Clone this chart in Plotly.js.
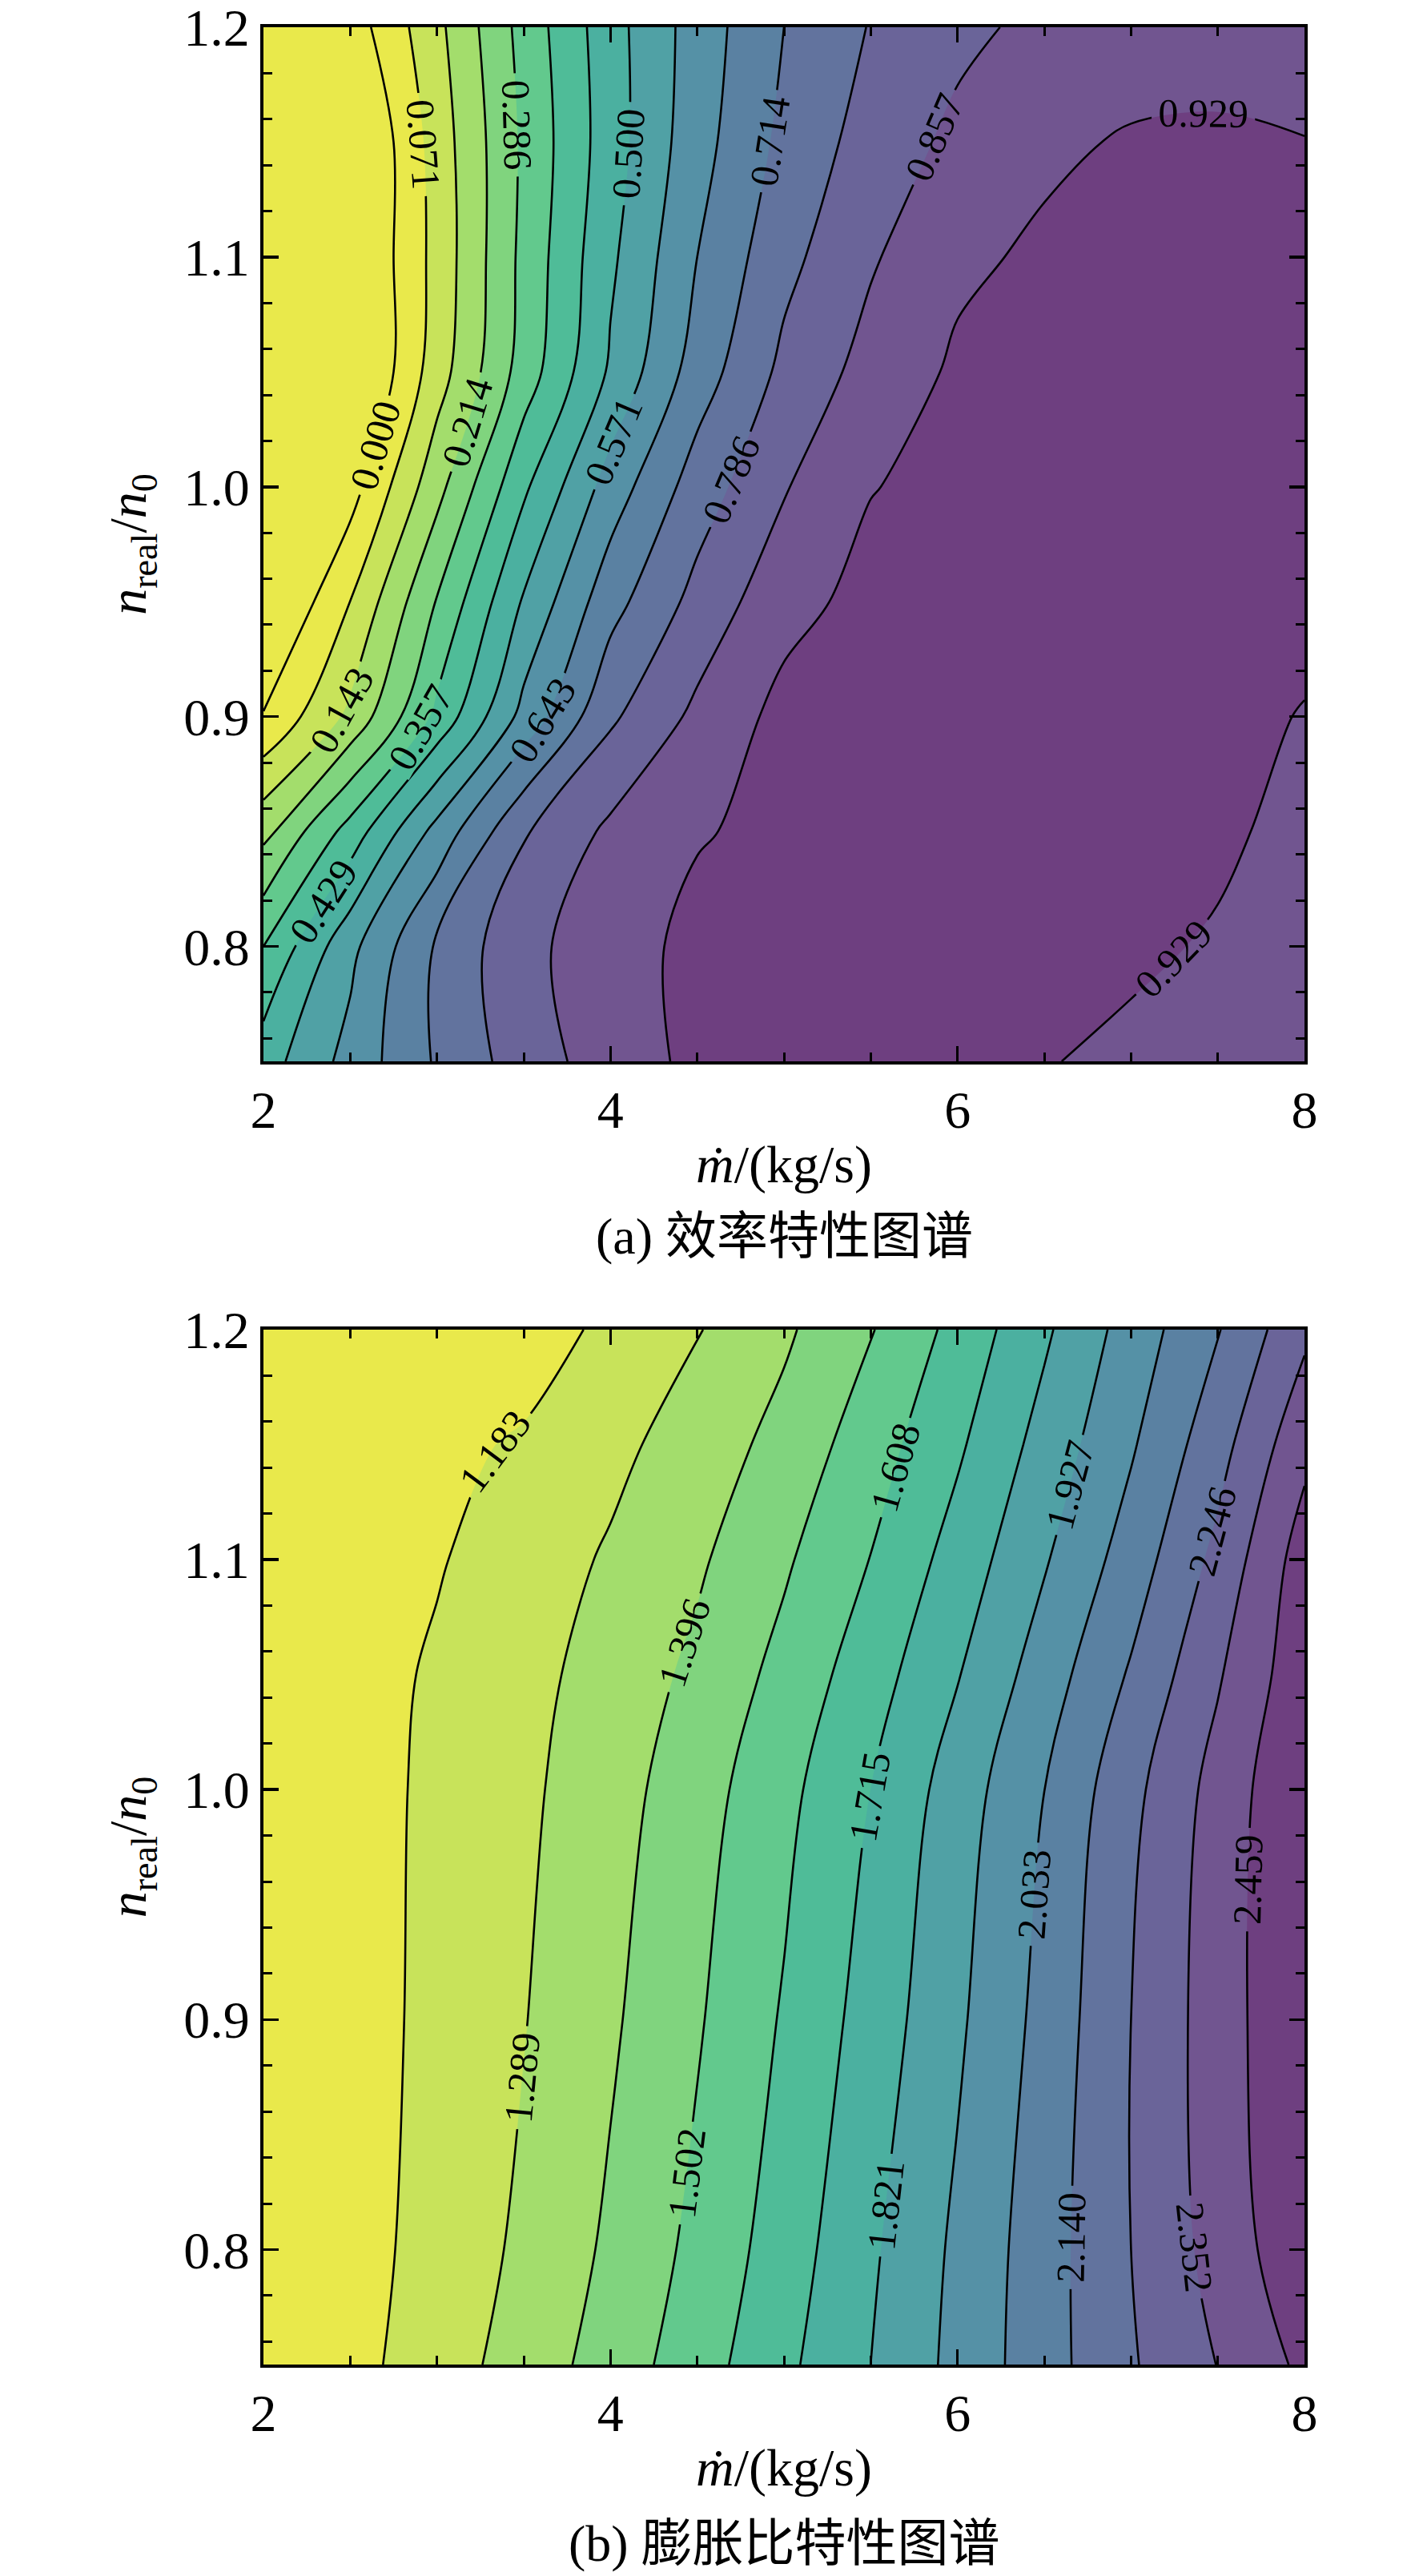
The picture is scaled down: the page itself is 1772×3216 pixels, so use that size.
<!DOCTYPE html>
<html>
<head>
<meta charset="utf-8">
<script src="https://cdn.plot.ly/plotly-3.0.1.min.js"></script>
<style>
html, body { margin: 0; padding: 0; background: #ffffff; }
#chart { width: 1772px; height: 3216px; }
</style>
</head>
<body>
<div id="chart"></div>
<script>
// ---------- data ----------
// mass flow (kg/s), shared x grid
const massFlow = [2, 2.5, 3, 3.5, 4, 4.5, 5, 5.5, 6, 6.5, 7, 7.5, 8];

// (a) efficiency map: relative speed rows
const effSpeed = [0.75, 0.80, 0.85, 0.90, 0.95, 1.00, 1.05, 1.10, 1.15, 1.20];
const efficiency = [
  [0.4668, 0.5971, 0.7230, 0.8214, 0.8922, 0.945, 0.950, 0.950, 0.945, 0.932, 0.915, 0.900, 0.885],
  [0.3571, 0.5516, 0.7253, 0.8383, 0.8968, 0.948, 0.952, 0.955, 0.955, 0.950, 0.940, 0.922, 0.895],
  [0.1955, 0.3865, 0.5966, 0.7792, 0.8724, 0.9234, 0.945, 0.955, 0.958, 0.955, 0.948, 0.940, 0.910],
  [0.0050, 0.1597, 0.3750, 0.5952, 0.7738, 0.8741, 0.950, 0.955, 0.962, 0.965, 0.962, 0.950, 0.925],
  [-0.100, 0.0720, 0.2902, 0.5079, 0.6884, 0.8095, 0.905, 0.950, 0.955, 0.965, 0.970, 0.965, 0.950],
  [-0.100, -0.031, 0.1905, 0.4159, 0.6039, 0.7488, 0.8515, 0.926, 0.948, 0.962, 0.968, 0.966, 0.958],
  [-0.100, -0.1092, 0.1092, 0.3174, 0.5107, 0.6771, 0.8036, 0.8831, 0.940, 0.955, 0.962, 0.962, 0.955],
  [-0.100, -0.0952, 0.0952, 0.3055, 0.4864, 0.6429, 0.7647, 0.8492, 0.915, 0.940, 0.950, 0.952, 0.945],
  [-0.100, -0.1031, 0.1031, 0.2993, 0.4676, 0.6154, 0.7331, 0.8159, 0.8739, 0.9159, 0.935, 0.937, 0.930],
  [-0.060, -0.039, 0.1240, 0.3117, 0.4721, 0.6047, 0.7143, 0.7897, 0.840, 0.875, 0.895, 0.905, 0.903]
];
const effLevelStart = 0;
const effLevelStep = 1 / 14;
const effLevelCount = 14;

// (b) expansion-ratio map
const prSpeed = [0.75, 0.80, 0.90, 1.00, 1.05, 1.10, 1.15, 1.20];
const expansionRatio = [
  [1.100, 1.149, 1.239, 1.335, 1.443, 1.561, 1.690, 1.821, 1.958, 2.096, 2.235, 2.355, 2.482],
  [1.100, 1.140, 1.223, 1.309, 1.414, 1.530, 1.660, 1.804, 1.948, 2.093, 2.246, 2.392, 2.537],
  [1.100, 1.137, 1.211, 1.285, 1.380, 1.491, 1.619, 1.758, 1.909, 2.067, 2.246, 2.408, 2.556],
  [1.100, 1.140, 1.205, 1.269, 1.352, 1.457, 1.578, 1.715, 1.872, 2.033, 2.216, 2.392, 2.559],
  [1.100, 1.139, 1.197, 1.258, 1.330, 1.420, 1.535, 1.667, 1.815, 1.979, 2.152, 2.341, 2.530],
  [1.090, 1.133, 1.175, 1.236, 1.302, 1.380, 1.487, 1.611, 1.758, 1.917, 2.082, 2.276, 2.510],
  [1.090, 1.123, 1.156, 1.196, 1.262, 1.337, 1.431, 1.558, 1.698, 1.860, 2.021, 2.205, 2.430],
  [1.060, 1.080, 1.100, 1.130, 1.207, 1.283, 1.378, 1.495, 1.642, 1.803, 1.973, 2.133, 2.330]
];
const prLevelStart = 1.18305;
const prLevelStep = 0.106305;
const prLevelCount = 13;

// tick labels
const xTickVals = [2, 4, 6, 8];
const yTickVals = [0.8, 0.9, 1.0, 1.1, 1.2];
const captionA = '(a) 效率特性图谱';
const captionB = '(b) 膨胀比特性图谱';
const xTitle = '<i>ṁ</i>/(kg/s)';
const yTitle = '<i>n</i><sub>real</sub>/<i>n</i><sub>0</sub>';

// ---------- styles ----------
const layerColors = ['#e9e94b', '#c8e35a', '#a3dd6c', '#80d47e', '#62c98d', '#4fbc98', '#4bb0a0',
                     '#50a1a5', '#5591a6', '#5a81a2', '#62739e', '#6a6499', '#715590', '#6e3f80'];

function scaleFrom(colors) {
  const n = colors.length - 1;
  return colors.map((c, i) => [i / n, c]);
}
// efficiency: band below 0 shares the first layer colour
const effScale = scaleFrom([layerColors[0]].concat(layerColors));
const prScale = scaleFrom(layerColors);

const serif = 'Liberation Serif, Times New Roman, serif';
const cjk = 'Liberation Serif, Noto Sans CJK SC, serif';
const tickFont = { family: serif, size: 66, color: '#000' };
const labelFont = { family: serif, size: 50, color: '#000' };

function contourTrace(z, y, start, step, count, scale, xa, ya) {
  return {
    type: 'contour', x: massFlow, y: y, z: z, xaxis: xa, yaxis: ya,
    autocontour: false,
    contours: {
      start: start, end: start + step * (count - 1), size: step,
      coloring: 'fill', showlabels: true, labelfont: labelFont, labelformat: '.3f'
    },
    colorscale: scale, showscale: false,
    line: { color: '#000', width: 2.6, smoothing: 1 },
    hoverinfo: 'skip'
  };
}

function xAxis(domain, anchor) {
  return {
    domain: domain, anchor: anchor, range: [2, 8],
    tickmode: 'array', tickvals: xTickVals, ticktext: xTickVals.map(String),
    ticks: 'inside', ticklen: 19, tickwidth: 3.5, tickcolor: '#000',
    minor: { dtick: 0.5, tick0: 2, ticks: 'inside', ticklen: 11, tickwidth: 3, tickcolor: '#000' },
    mirror: 'allticks', showline: true, linewidth: 4, linecolor: '#000',
    showgrid: false, zeroline: false, tickfont: tickFont, automargin: false,
    ticklabeloverflow: 'allow',
    title: { text: xTitle, font: { family: serif, size: 66, color: '#000' }, standoff: 10 }
  };
}
function yAxis(domain, anchor) {
  return {
    domain: domain, anchor: anchor, range: [0.75, 1.2],
    tickmode: 'array', tickvals: yTickVals, ticktext: yTickVals.map(v => v.toFixed(1)),
    ticks: 'inside', ticklen: 19, tickwidth: 3.5, tickcolor: '#000',
    minor: { dtick: 0.02, tick0: 0.8, ticks: 'inside', ticklen: 11, tickwidth: 3, tickcolor: '#000' },
    mirror: 'allticks', showline: true, linewidth: 4, linecolor: '#000',
    showgrid: false, zeroline: false, tickfont: tickFont, automargin: false,
    ticklabeloverflow: 'allow',
    title: { text: yTitle, font: { family: serif, size: 66, color: '#000' }, standoff: 26 }
  };
}

const W = 1772, H = 3216;
const xDom = [329 / W, 1629 / W];
const yDomA = [1 - 1325 / H, 1 - 34 / H];
const yDomB = [1 - 2952 / H, 1 - 1660 / H];

const data = [
  contourTrace(efficiency, effSpeed, effLevelStart, effLevelStep, effLevelCount, effScale, 'x', 'y'),
  contourTrace(expansionRatio, prSpeed, prLevelStart, prLevelStep, prLevelCount, prScale, 'x2', 'y2')
];

const layout = {
  width: W, height: H,
  margin: { l: 0, r: 0, t: 0, b: 0 },
  paper_bgcolor: '#fff', plot_bgcolor: '#fff',
  showlegend: false,
  xaxis: xAxis(xDom, 'y'),
  yaxis: yAxis(yDomA, 'x'),
  xaxis2: xAxis(xDom, 'y2'),
  yaxis2: yAxis(yDomB, 'x2'),
  annotations: [
    { text: captionA, xref: 'paper', yref: 'paper', x: 979 / W, y: 1 - 1543 / H,
      xanchor: 'center', yanchor: 'middle', showarrow: false, font: { family: cjk, size: 64, color: '#000' } },
    { text: captionB, xref: 'paper', yref: 'paper', x: 979 / W, y: 1 - 3175 / H,
      xanchor: 'center', yanchor: 'middle', showarrow: false, font: { family: cjk, size: 64, color: '#000' } }
  ]
};

Plotly.newPlot('chart', data, layout, { staticPlot: true, displayModeBar: false });
</script>
</body>
</html>
